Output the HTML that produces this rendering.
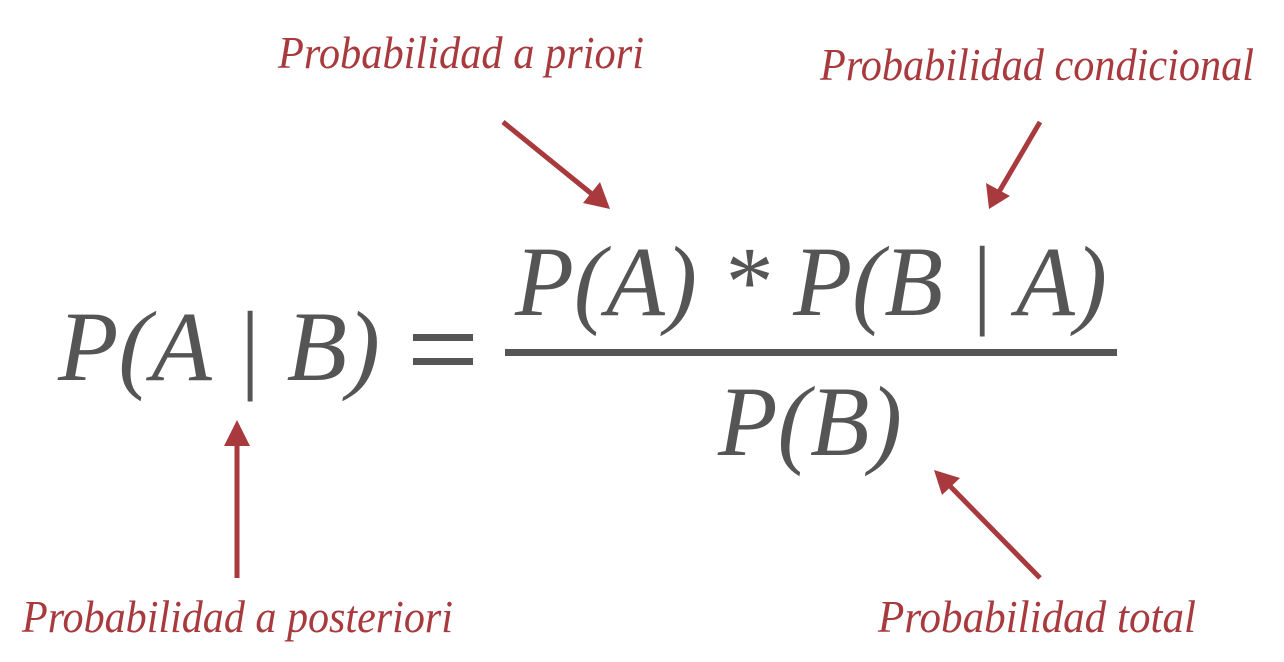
<!DOCTYPE html>
<html>
<head>
<meta charset="utf-8">
<style>
  html,body{margin:0;padding:0;background:#fff;}
  svg{display:block;}
  .math{font-family:"Liberation Serif",serif;font-style:italic;fill:#555555;}
  .lbl{font-family:"Liberation Serif",serif;font-style:italic;fill:#a83a3e;}
</style>
</head>
<body>
<svg width="1284" height="662" viewBox="0 0 1284 662">
  <defs>
    <marker id="ah" markerWidth="8" markerHeight="8" refX="6" refY="4" orient="auto" markerUnits="userSpaceOnUse" viewBox="0 0 8 8">
      <path d="M0,0 L8,4 L0,8 Z" fill="#a83a3e"/>
    </marker>
  </defs>

  <text class="math" x="58" y="380" font-size="100" textLength="322" lengthAdjust="spacingAndGlyphs">P(A | B)</text>
  <g>
    <rect x="413" y="334" width="60" height="7" fill="#555"/>
    <rect x="413" y="358" width="60" height="7" fill="#555"/>
  </g>
  <text class="math" x="515" y="315" font-size="100" textLength="592" lengthAdjust="spacingAndGlyphs">P(A) * P(B | A)</text>
  <rect x="505" y="349" width="612" height="7" fill="#555"/>
  <text class="math" x="718" y="455" font-size="100" textLength="184" lengthAdjust="spacingAndGlyphs">P(B)</text>

  <text class="lbl" x="278" y="68" font-size="46" textLength="366" lengthAdjust="spacingAndGlyphs">Probabilidad a priori</text>
  <text class="lbl" x="820" y="80" font-size="46" textLength="434" lengthAdjust="spacingAndGlyphs">Probabilidad condicional</text>
  <text class="lbl" x="22" y="632" font-size="46" textLength="431" lengthAdjust="spacingAndGlyphs">Probabilidad a posteriori</text>
  <text class="lbl" x="878" y="632" font-size="46" textLength="318" lengthAdjust="spacingAndGlyphs">Probabilidad total</text>

  <g stroke="#a83a3e" stroke-width="5" fill="none">
    <line x1="503" y1="122" x2="598" y2="199"/>
    <line x1="1040" y1="122" x2="996" y2="197"/>
    <line x1="237" y1="578" x2="237" y2="436"/>
    <line x1="1040" y1="578" x2="946" y2="482"/>
  </g>
  <g fill="#a83a3e">
    <polygon points="610,209 583,203 600,182"/>
    <polygon points="989,209 986,183 1010,196"/>
    <polygon points="237,420 224,446 250,446"/>
    <polygon points="934,470 960,478 942,495"/>
  </g>
</svg>
</body>
</html>
